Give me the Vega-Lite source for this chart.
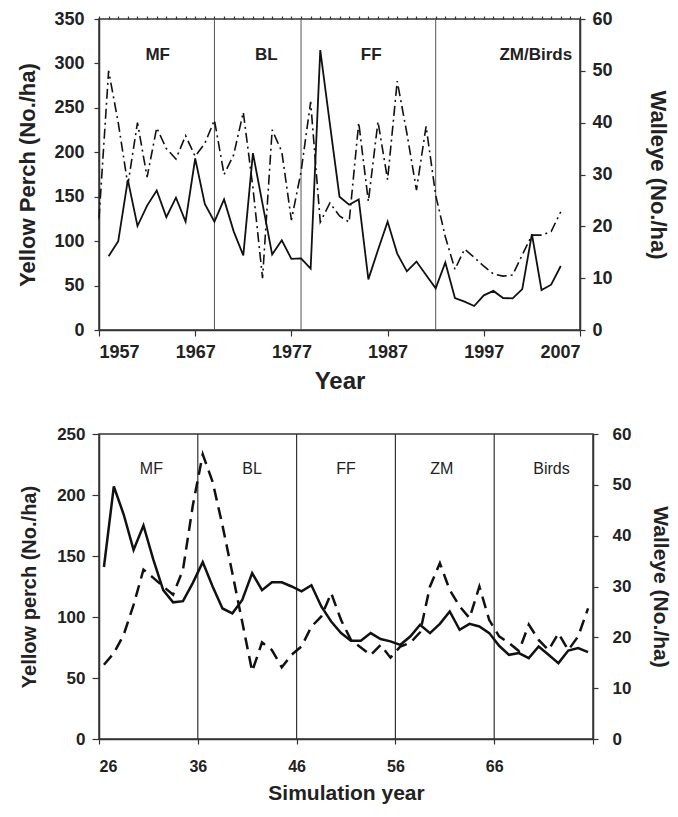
{
  "$schema": "https://vega.github.io/schema/vega-lite/v6.json",
  "background": "white",
  "padding": {"left": 16, "top": 9, "right": 4, "bottom": 4},
  "spacing": 30,
  "config": {
    "font": "Liberation Sans",
    "view": {"stroke": "#333", "strokeWidth": 1.5},
    "axis": {"grid": false, "domainColor": "#333", "tickColor": "#333", "labelColor": "#222", "titleColor": "#222", "domainWidth": 1.5, "tickWidth": 1.2, "labelFontWeight": "bold", "titleFontWeight": "bold"}
  },
  "datasets": {
    "top": [
      {"year": 1957, "perch": null, "walleye": 21.5},
      {"year": 1958, "perch": 83, "walleye": 50},
      {"year": 1959, "perch": 100, "walleye": 40},
      {"year": 1960, "perch": 169, "walleye": 28},
      {"year": 1961, "perch": 117, "walleye": 40},
      {"year": 1962, "perch": 140, "walleye": 29.5},
      {"year": 1963, "perch": 157, "walleye": 39},
      {"year": 1964, "perch": 127, "walleye": 35},
      {"year": 1965, "perch": 149, "walleye": 33},
      {"year": 1966, "perch": 122, "walleye": 37.5},
      {"year": 1967, "perch": 193, "walleye": 33.5},
      {"year": 1968, "perch": 142, "walleye": 36},
      {"year": 1969, "perch": 122, "walleye": 40.5},
      {"year": 1970, "perch": 147, "walleye": 30},
      {"year": 1971, "perch": 111, "walleye": 33.8},
      {"year": 1972, "perch": 84, "walleye": 42},
      {"year": 1973, "perch": 199, "walleye": 27.5},
      {"year": 1974, "perch": 142, "walleye": 10},
      {"year": 1975, "perch": 85, "walleye": 38.6},
      {"year": 1976, "perch": 101, "walleye": 34.4},
      {"year": 1977, "perch": 80, "walleye": 21.2},
      {"year": 1978, "perch": 80.6, "walleye": 30.5},
      {"year": 1979, "perch": 69, "walleye": 44},
      {"year": 1980, "perch": 315, "walleye": 20.8},
      {"year": 1981, "perch": 232, "walleye": 24.5},
      {"year": 1982, "perch": 150, "walleye": 22},
      {"year": 1983, "perch": 141, "walleye": 20.8},
      {"year": 1984, "perch": 147, "walleye": 40},
      {"year": 1985, "perch": 57, "walleye": 24.8},
      {"year": 1986, "perch": 90, "walleye": 40.2},
      {"year": 1987, "perch": 122, "walleye": 29},
      {"year": 1988, "perch": 86, "walleye": 48},
      {"year": 1989, "perch": 66, "walleye": 38},
      {"year": 1990, "perch": 77, "walleye": 27},
      {"year": 1991, "perch": 62, "walleye": 39.3},
      {"year": 1992, "perch": 47, "walleye": 26},
      {"year": 1993, "perch": 76, "walleye": 18},
      {"year": 1994, "perch": 36, "walleye": 11.7},
      {"year": 1995, "perch": 32, "walleye": 15.6},
      {"year": 1996, "perch": 27, "walleye": 14},
      {"year": 1997, "perch": 39, "walleye": 12.3},
      {"year": 1998, "perch": 44, "walleye": 10.8},
      {"year": 1999, "perch": 36, "walleye": 10.4},
      {"year": 2000, "perch": 35.6, "walleye": 10.6},
      {"year": 2001, "perch": 46, "walleye": 14.5},
      {"year": 2002, "perch": 108, "walleye": 18.3},
      {"year": 2003, "perch": 45, "walleye": 18.3},
      {"year": 2004, "perch": 51, "walleye": 19},
      {"year": 2005, "perch": 72, "walleye": 22.8}
    ],
    "bottom": [
      {"t": 26.5, "perch": 141, "walleye": 14.6},
      {"t": 27.5, "perch": 207, "walleye": 16.9},
      {"t": 28.5, "perch": 184, "walleye": 20.5},
      {"t": 29.5, "perch": 155, "walleye": 26.4},
      {"t": 30.5, "perch": 175, "walleye": 33.3},
      {"t": 31.5, "perch": 147, "walleye": 31.7},
      {"t": 32.5, "perch": 122, "walleye": 30},
      {"t": 33.5, "perch": 112, "walleye": 28.4},
      {"t": 34.5, "perch": 113, "walleye": 33.3},
      {"t": 35.5, "perch": 128, "walleye": 46},
      {"t": 36.5, "perch": 145, "walleye": 56},
      {"t": 37.5, "perch": 125, "walleye": 50.6},
      {"t": 38.5, "perch": 107, "walleye": 42},
      {"t": 39.5, "perch": 103, "walleye": 32.6},
      {"t": 40.5, "perch": 114, "walleye": 23},
      {"t": 41.5, "perch": 136, "walleye": 13.3},
      {"t": 42.5, "perch": 122, "walleye": 19},
      {"t": 43.5, "perch": 128.5, "walleye": 17.5},
      {"t": 44.5, "perch": 128.5, "walleye": 14.1},
      {"t": 45.5, "perch": 125, "walleye": 16.6},
      {"t": 46.5, "perch": 121, "walleye": 18.2},
      {"t": 47.5, "perch": 126, "walleye": 22.1},
      {"t": 48.5, "perch": 108.6, "walleye": 24.1},
      {"t": 49.5, "perch": 96.3, "walleye": 28.7},
      {"t": 50.5, "perch": 86.8, "walleye": 23.4},
      {"t": 51.5, "perch": 80.5, "walleye": 19.5},
      {"t": 52.5, "perch": 80.5, "walleye": 18},
      {"t": 53.5, "perch": 86.8, "walleye": 16.5},
      {"t": 54.5, "perch": 82, "walleye": 18.5},
      {"t": 55.5, "perch": 80, "walleye": 16},
      {"t": 56.5, "perch": 77.2, "walleye": 18.2},
      {"t": 57.5, "perch": 84, "walleye": 18.9},
      {"t": 58.5, "perch": 93.6, "walleye": 21},
      {"t": 59.5, "perch": 86.8, "walleye": 30},
      {"t": 60.5, "perch": 94.4, "walleye": 34.6},
      {"t": 61.5, "perch": 104.5, "walleye": 29.3},
      {"t": 62.5, "perch": 89.5, "walleye": 26.1},
      {"t": 63.5, "perch": 94.4, "walleye": 23.8},
      {"t": 64.5, "perch": 92.2, "walleye": 30},
      {"t": 65.5, "perch": 86.8, "walleye": 23.4},
      {"t": 66.5, "perch": 76.4, "walleye": 20.2},
      {"t": 67.5, "perch": 69, "walleye": 18.9},
      {"t": 68.5, "perch": 70.4, "walleye": 17.3},
      {"t": 69.5, "perch": 66.3, "walleye": 22.5},
      {"t": 70.5, "perch": 75.8, "walleye": 19.5},
      {"t": 71.5, "perch": 69, "walleye": 17.5},
      {"t": 72.5, "perch": 62.2, "walleye": 20.8},
      {"t": 73.5, "perch": 72.5, "walleye": 17.5},
      {"t": 74.5, "perch": 74.5, "walleye": 20.2},
      {"t": 75.5, "perch": 71.2, "walleye": 25.7}
    ],
    "topBreaks": [{"year": 1969}, {"year": 1978}, {"year": 1992}],
    "topLabels": [
      {"year": 1963.1, "value": 310, "label": "MF"},
      {"year": 1974.4, "value": 310, "label": "BL"},
      {"year": 1985.3, "value": 310, "label": "FF"},
      {"year": 2002.4, "value": 310, "label": "ZM/Birds"}
    ],
    "bottomBreaks": [{"t": 36}, {"t": 46}, {"t": 56}, {"t": 66}],
    "bottomLabels": [
      {"t": 31.3, "value": 221, "label": "MF"},
      {"t": 41.5, "value": 221, "label": "BL"},
      {"t": 51.0, "value": 221, "label": "FF"},
      {"t": 60.7, "value": 221, "label": "ZM"},
      {"t": 71.8, "value": 221, "label": "Birds"}
    ]
  },
  "vconcat": [
    {
      "width": 481,
      "height": 311,
      "resolve": {"scale": {"y": "independent"}, "axis": {"x": "independent", "y": "independent"}},
      "layer": [
        {
          "data": {"name": "topBreaks"},
          "mark": {"type": "rule", "color": "#555", "strokeWidth": 1},
          "encoding": {
            "x": {"field": "year", "type": "quantitative", "scale": {"domain": [1957, 2007], "nice": false, "zero": false}, "axis": null}
          }
        },
        {
          "data": {"name": "top"},
          "mark": {"type": "line", "color": "#111", "strokeWidth": 1.8},
          "encoding": {
            "x": {"field": "year", "type": "quantitative", "scale": {"domain": [1957, 2007], "nice": false, "zero": false},
              "axis": {"values": [1957, 1967, 1977, 1987, 1997, 2007], "format": "d", "tickSize": 6, "labelPadding": 7, "labelFontSize": 18, "title": "Year", "titleFontSize": 24, "titlePadding": 8}},
            "y": {"field": "perch", "type": "quantitative", "scale": {"domain": [0, 350], "nice": false},
              "axis": {"values": [0, 50, 100, 150, 200, 250, 300, 350], "tickSize": 5, "labelPadding": 10, "labelFontSize": 18, "title": "Yellow Perch (No./ha)", "titleFontSize": 22, "titlePadding": 14}}
          }
        },
        {
          "data": {"name": "top"},
          "mark": {"type": "line", "color": "#111", "strokeWidth": 1.6, "strokeDash": [10, 4, 2, 4]},
          "encoding": {
            "x": {"field": "year", "type": "quantitative", "scale": {"domain": [1957, 2007], "nice": false, "zero": false},
              "axis": {"values": [1957,1958,1959,1960,1961,1962,1963,1964,1965,1966,1967,1968,1969,1970,1971,1972,1973,1974,1975,1976,1977,1978,1979,1980,1981,1982,1983,1984,1985,1986,1987,1988,1989,1990,1991,1992,1993,1994,1995,1996,1997,1998,1999,2000,2001,2002,2003,2004,2005,2006,2007], "labels": false, "domain": false, "tickSize": 3, "title": null}},
            "y": {"field": "walleye", "type": "quantitative", "scale": {"domain": [0, 60], "nice": false},
              "axis": {"orient": "right", "values": [0, 10, 20, 30, 40, 50, 60], "tickSize": 5, "labelPadding": 7, "labelFontSize": 18, "title": "Walleye (No./ha)", "titleFontSize": 22, "titlePadding": 33}}
          }
        },
        {
          "data": {"name": "topLabels"},
          "mark": {"type": "text", "font": "Liberation Sans", "fontWeight": "bold", "fontSize": 17, "color": "#222"},
          "encoding": {
            "x": {"field": "year", "type": "quantitative", "scale": {"domain": [1957, 2007], "nice": false, "zero": false}, "axis": null},
            "y": {"field": "value", "type": "quantitative", "scale": {"domain": [0, 350], "nice": false}, "axis": null},
            "text": {"field": "label"}
          }
        }
      ]
    },
    {
      "width": 494,
      "height": 305,
      "resolve": {"scale": {"y": "independent"}, "axis": {"y": "independent"}},
      "layer": [
        {
          "data": {"name": "bottomBreaks"},
          "mark": {"type": "rule", "color": "#333", "strokeWidth": 1.2},
          "encoding": {
            "x": {"field": "t", "type": "quantitative", "scale": {"domain": [26, 76], "nice": false, "zero": false},
              "axis": {"values": [26, 36, 46, 56, 66, 76], "labelExpr": "datum.value == 76 ? '' : datum.label", "tickSize": 5, "labelPadding": 14, "labelFontSize": 16, "title": "Simulation year", "titleFontSize": 21, "titlePadding": 8}}
          }
        },
        {
          "data": {"name": "bottom"},
          "mark": {"type": "line", "color": "#111", "strokeWidth": 2.5},
          "encoding": {
            "x": {"field": "t", "type": "quantitative"},
            "y": {"field": "perch", "type": "quantitative", "scale": {"domain": [0, 250], "nice": false},
              "axis": {"values": [0, 50, 100, 150, 200, 250], "tickSize": 7, "labelPadding": 7, "labelFontSize": 17, "title": "Yellow perch (No./ha)", "titleFontSize": 20, "titlePadding": 17}}
          }
        },
        {
          "data": {"name": "bottom"},
          "mark": {"type": "line", "color": "#111", "strokeWidth": 2.5, "strokeDash": [12, 7]},
          "encoding": {
            "x": {"field": "t", "type": "quantitative"},
            "y": {"field": "walleye", "type": "quantitative", "scale": {"domain": [0, 60], "nice": false},
              "axis": {"orient": "right", "values": [0, 10, 20, 30, 40, 50, 60], "tickSize": 5, "labelPadding": 14, "labelFontSize": 17, "title": "Walleye (No./ha)", "titleFontSize": 21, "titlePadding": 19}}
          }
        },
        {
          "data": {"name": "bottomLabels"},
          "mark": {"type": "text", "font": "Liberation Sans", "fontSize": 16, "color": "#222"},
          "encoding": {
            "x": {"field": "t", "type": "quantitative"},
            "y": {"field": "value", "type": "quantitative", "scale": {"domain": [0, 250], "nice": false}, "axis": null},
            "text": {"field": "label"}
          }
        }
      ]
    }
  ]
}
